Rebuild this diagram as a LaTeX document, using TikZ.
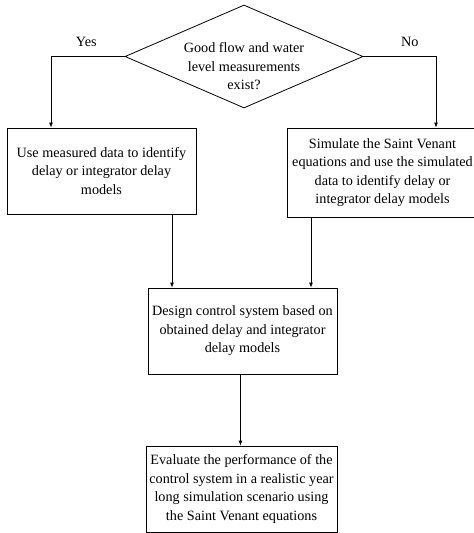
\documentclass[tikz,border=0pt]{standalone}
\usepackage{fontspec}
\setmainfont{Liberation Serif}
\usetikzlibrary{shapes.geometric,arrows.meta}

\tikzset{
  block/.style={draw, line width=0.8pt, align=center, minimum width=189pt, minimum height=86pt, inner sep=0pt},
  decision/.style={diamond, draw, line width=0.8pt, minimum width=238pt, minimum height=103pt, inner sep=0pt},
  arrow/.style={draw, line width=0.8pt, -{Latex[length=5pt,width=4pt]}},
  answer/.style={anchor=base, yshift=10.3pt},
}

\begin{document}
\begin{tikzpicture}[x=1pt, y=-1pt, font=\fontsize{14.2}{18.5}\selectfont]
  \clip (0,0) rectangle (474,533);

  % question
  \node [decision] (cond) at (244,56.5) {};
  \node [align=center, inner sep=0pt] (condtext) at ([yshift=-10pt]cond.center)
    {Good flow and water\\level measurements\\exist?};

  % the two ways to get models
  \node [block] (usebox) at (101.5,171) {Use measured data to identify\\delay or integrator delay\\models};
  \node [block, minimum width=191pt, minimum height=89pt] (simbox) at (382.5,172.5)
    {Simulate the Saint Venant\\equations and use the simulated\\data to identify delay or\\integrator delay models};

  % design and evaluation
  \node [block] (design) at (242.5,331) {Design control system based on\\obtained delay and integrator\\delay models};
  \node [block, minimum width=191pt] (eval) at (241.5,489)
    {Evaluate the performance of the\\control system in a realistic year\\long simulation scenario using\\the Saint Venant equations};

  \coordinate (yestip) at ([xshift=-50.5pt]usebox.north);
  \coordinate (notip) at ([xshift=53.5pt]simbox.north);
  \coordinate (usefoot) at ([xshift=70.5pt]usebox.south);
  \coordinate (simfoot) at ([xshift=-71.5pt]simbox.south);
  \coordinate (designfoot) at ([xshift=-2pt]design.south);

  \draw [arrow] (cond.west) -| node [answer, pos=0.26] {Yes} (yestip);
  \draw [arrow] (cond.east) -| node [answer, pos=0.32] {No} (notip);
  \draw [arrow] (usefoot) -- (usefoot |- design.north);
  \draw [arrow] (simfoot) -- (simfoot |- design.north);
  \draw [arrow] (designfoot) -- (designfoot |- eval.north);
\end{tikzpicture}
\end{document}
